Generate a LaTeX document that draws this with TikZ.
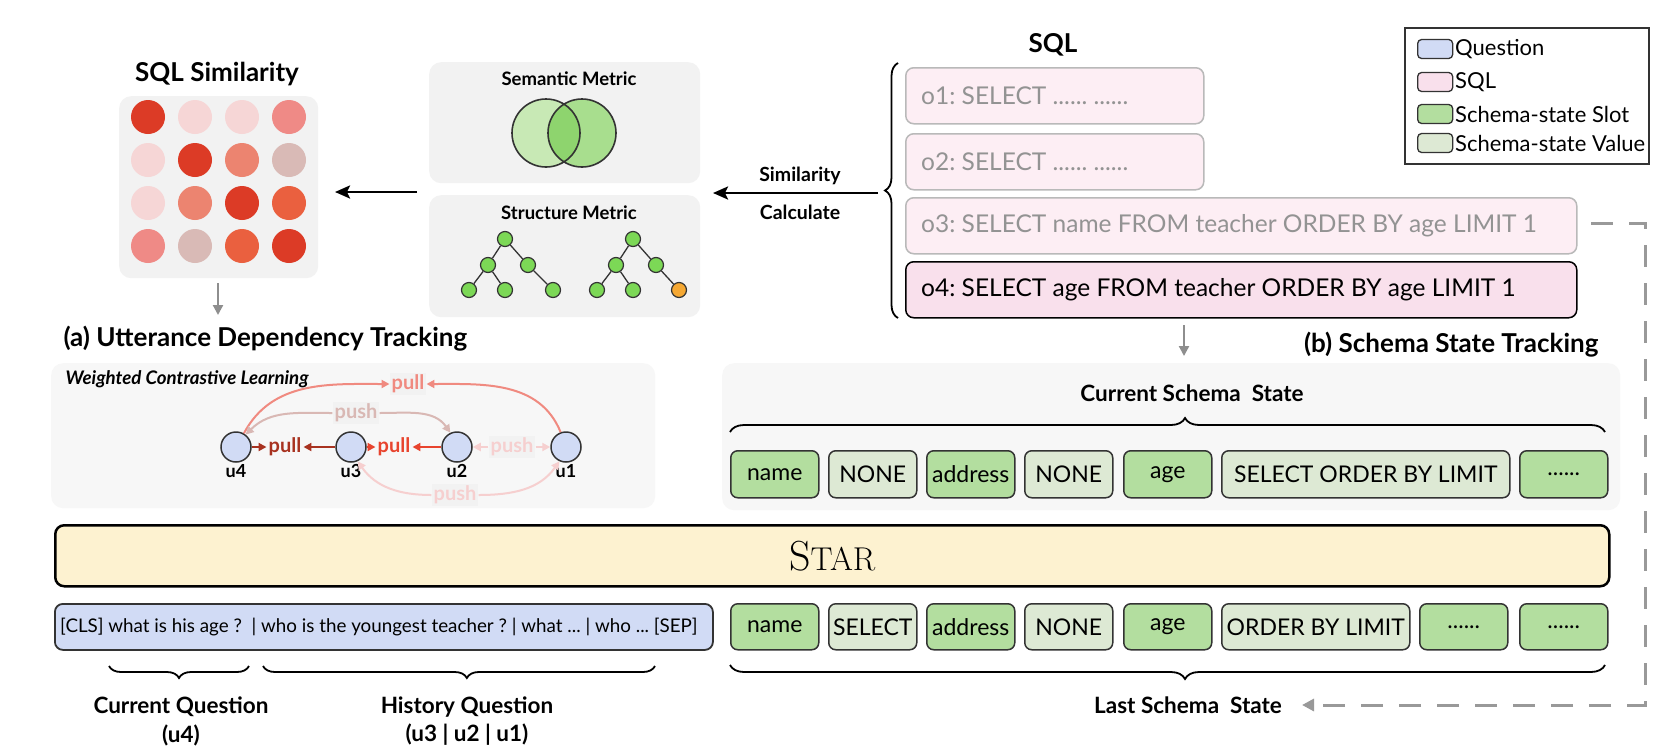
\documentclass[tikz,border=0pt]{standalone}
\usepackage{fontspec}
\setmainfont{Lato}
\usetikzlibrary{arrows.meta,decorations.pathreplacing,calc}
\newcommand\myfs[1]{\fontsize{#1}{#1}\selectfont}
\definecolor{qblue}{HTML}{D1DBF5}
\definecolor{sqlpale}{HTML}{FDEEF4}
\definecolor{sqlpink}{HTML}{F9E0EC}
\definecolor{slotg}{HTML}{B3DE9F}
\definecolor{valg}{HTML}{DDE9D4}
\definecolor{starY}{HTML}{FDF2D0}
\definecolor{panelA}{HTML}{F2F2F2}
\definecolor{panelB}{HTML}{F7F7F7}
\definecolor{mdark}{HTML}{DC3B26}
\definecolor{mpale}{HTML}{F6D6D6}
\definecolor{mpink}{HTML}{EF8A86}
\definecolor{msalmon}{HTML}{EC8470}
\definecolor{mgrey}{HTML}{D9BAB6}
\definecolor{morange}{HTML}{EA603F}
\definecolor{vennL}{HTML}{C8E9B5}
\definecolor{vennR}{HTML}{A8DE8E}
\definecolor{vennM}{HTML}{8ED46E}
\definecolor{treeG}{HTML}{7CD856}
\definecolor{treeO}{HTML}{F5A833}
\definecolor{cpullT}{HTML}{F08A80}
\definecolor{cpushU}{HTML}{D9B8B4}
\definecolor{cpullA}{HTML}{A83220}
\definecolor{cpullB}{HTML}{E8442E}
\definecolor{cpushM}{HTML}{F6CFCF}
\definecolor{darkline}{HTML}{333333}
\definecolor{arrgray}{HTML}{8E8E8E}
\tikzset{
  panel/.style={fill=#1, draw=none, rounded corners=12},
  sqlbox/.style={draw=gray!55, fill=sqlpale, rounded corners=8, line width=1.5,
    anchor=north west, minimum height=56, inner sep=0},
  sqlcur/.style={sqlbox, draw=black, fill=sqlpink},
  sqltext/.style={anchor=west, inner sep=0, text=gray!85, font=\myfs{24.5}},
  slot/.style={draw=darkline, fill=slotg, rounded corners=7, line width=1.5, anchor=north west,
    minimum height=47, inner sep=0, font=\myfs{23}},
  valbox/.style={slot, fill=valg},
  head/.style={font=\bfseries\myfs{26}},
  subhead/.style={font=\bfseries\myfs{18.5}},
  lbl/.style={font=\bfseries\myfs{22.5}},
  tnode/.style={circle, draw=darkline, line width=1.2, fill=treeG, minimum size=15, inner sep=0},
  unode/.style={circle, draw=darkline, line width=1.5, fill=qblue, minimum size=30, inner sep=0},
  ulbl/.style={font=\bfseries\myfs{18}},
  elbl/.style={font=\bfseries\myfs{20}, inner sep=2},
  blackarrow/.style={line width=2.5, -{Stealth[length=15,width=13,inset=3]}},
  grayarrow/.style={line width=2.2, arrgray, -{Triangle[length=10,width=10]}},
  carrow/.style={line width=2, -{Triangle[length=8,width=8]}},
  bracestyle/.style={line width=1.8, decorate, decoration={brace, amplitude=#1}},
  legsw/.style={draw=darkline, line width=1.3, rounded corners=4, minimum width=35, minimum height=19, inner sep=0, anchor=west},
  legtxt/.style={font=\myfs{22}, anchor=west, inner sep=0},
}
\begin{document}
\frenchspacing
\begin{tikzpicture}[x=1pt,y=-1pt]
\useasboundingbox (0,0) rectangle (1680,750);
\fill[white] (0,0) rectangle (1680,750);

% ---------- SQL similarity matrix ----------
\node[head] (simtitle) at (217,74) {SQL Similarity};
\node[panel=panelA, minimum width=199, minimum height=182, anchor=north west] (mat) at (119,96) {};
\foreach \c [count=\i] in {mdark,mpale,mpale,mpink}{\fill[\c] ({148+47*(\i-1)},117) circle (17pt);}
\foreach \c [count=\i] in {mpale,mdark,msalmon,mgrey}{\fill[\c] ({148+47*(\i-1)},160) circle (17pt);}
\foreach \c [count=\i] in {mpale,msalmon,mdark,morange}{\fill[\c] ({148+47*(\i-1)},203) circle (17pt);}
\foreach \c [count=\i] in {mpink,mgrey,morange,mdark}{\fill[\c] ({148+47*(\i-1)},246) circle (17pt);}
\coordinate (matdn1) at (218,283);
\coordinate (matdn2) at (218,315);
\draw[grayarrow] (matdn1) -- (matdn2);

% ---------- metric panels ----------
\node[panel=panelA, minimum width=271, minimum height=121, anchor=north west] (sem) at (429,62) {};
\node[subhead] (semt) at (569,79) {Semantic Metric};
\fill[vennL] (546,133) circle (34pt);
\fill[vennR] (582,133) circle (34pt);
\begin{scope}
  \clip (546,133) circle (34pt);
  \fill[vennM] (582,133) circle (34pt);
\end{scope}
\draw[line width=1.6, darkline] (546,133) circle (34pt);
\draw[line width=1.6, darkline] (582,133) circle (34pt);

\node[panel=panelA, minimum width=271, minimum height=122, anchor=north west] (str) at (429,195) {};
\node[subhead] (strt) at (569,213) {Structure Metric};
\node[tnode] (ar) at (505,239) {};
\node[tnode] (aa) at (488,265) {};
\node[tnode] (ab) at (528,265) {};
\node[tnode] (aaa) at (469,290) {};
\node[tnode] (aab) at (505,290) {};
\node[tnode] (abb) at (553,290) {};
\draw[line width=1.3, darkline] (ar) -- (aa) (ar) -- (ab) (aa) -- (aaa) (aa) -- (aab) (ab) -- (abb);
\node[tnode] (br) at (633,239) {};
\node[tnode] (ba) at (616,265) {};
\node[tnode] (bb) at (656,265) {};
\node[tnode] (baa) at (597,290) {};
\node[tnode] (bab) at (633,290) {};
\node[tnode, fill=treeO] (bbb) at (679,290) {};
\draw[line width=1.3, darkline] (br) -- (ba) (br) -- (bb) (ba) -- (baa) (ba) -- (bab) (bb) -- (bbb);

\coordinate (m2s1) at (417,192);
\coordinate (m2s2) at (335,192);
\draw[blackarrow] (m2s1) -- (m2s2);

% ---------- SQL list ----------
\node[head] (sqlt) at (1053,45) {SQL};
\node[sqlbox, minimum width=298] (o1) at (905,67) {};
\node[sqltext] (o1t) at ([xshift=16]o1.west) {o1: SELECT ...... ......};
\node[sqlbox, minimum width=298] (o2) at (905,133) {};
\node[sqltext] (o2t) at ([xshift=16]o2.west) {o2: SELECT ...... ......};
\node[sqlbox, minimum width=671] (o3) at (905,197) {};
\node[sqltext] (o3t) at ([xshift=16]o3.west) {o3: SELECT name FROM teacher ORDER BY age LIMIT 1};
\node[sqlcur, minimum width=671] (o4) at (905,261) {};
\node[sqltext, text=black] (o4t) at ([xshift=16]o4.west) {o4: SELECT age FROM teacher ORDER BY age LIMIT 1};
\coordinate (brB) at (898,318);
\coordinate (brT) at (898,63);
\draw[bracestyle=13] (brB) -- (brT);
\coordinate (simA) at (878,193);
\coordinate (simB) at (713,193);
\draw[blackarrow] (simA) -- (simB);
\node[font=\bfseries\myfs{19.5}] (simlbl1) at (800,176) {Similarity};
\node[font=\bfseries\myfs{19.5}] (simlbl2) at (800,212) {Calculate};

% ---------- legend ----------
\node[draw=darkline, line width=1.5, minimum width=244, minimum height=136, anchor=north west] (leg) at (1404,27) {};
\node[legsw, fill=qblue] (lq) at (1417,49) {};
\node[legtxt] at (1455,49) {Question};
\node[legsw, fill=sqlpink] (ls) at (1417,82) {};
\node[legtxt] at (1455,82) {SQL};
\node[legsw, fill=slotg] (lsl) at (1417,114) {};
\node[legtxt] at (1455,114) {Schema-state Slot};
\node[legsw, fill=valg] (lv) at (1417,143) {};
\node[legtxt] at (1455,143) {Schema-state Value};

% ---------- (a) utterance dependency ----------
\node[head, anchor=west] (atitle) at (60,339) {(a) Utterance Dependency Tracking};
\node[panel=panelB, minimum width=604, minimum height=145, anchor=north west] (cpanel) at (51,363) {};
\node[anchor=west, font=\bfseries\itshape\myfs{18.7}] (wcl) at (62,379) {Weighted Contrastive Learning};
\node[unode] (u4) at (236,447) {};
\node[unode] (u3) at (351,447) {};
\node[unode] (u2) at (457,447) {};
\node[unode] (u1) at (566,447) {};
\node[ulbl] at (236,471) {u4};
\node[ulbl] at (351,471) {u3};
\node[ulbl] at (457,471) {u2};
\node[ulbl] at (566,471) {u1};
\node[elbl, text=cpullT, fill=black!5] (pullT) at (408,384) {pull};
\node[elbl, text=cpushU, fill=black!5] (pushU) at (356,413) {push};
\node[elbl, text=cpushM, fill=black!5] (pushL) at (455,495) {push};
\node[elbl, text=cpullA] (pullA) at (285,447) {pull};
\node[elbl, text=cpullB] (pullB) at (394,447) {pull};
\node[elbl, text=cpushM, fill=black!5] (pushM) at (512,447) {push};
\draw[carrow, cpullT] (u4.60) to[out=62, in=180] (pullT.west);
\draw[carrow, cpullT] (u1.110) to[out=112, in=0] (pullT.east);
\draw[carrow, cpushU] (pushU.west) to[out=180, in=45] (u4.52);
\draw[carrow, cpushU] (pushU.east) to[out=0, in=125] (u2.115);
\draw[carrow, cpushM] (pushL.west) to[out=180, in=-55] (u3.-65);
\draw[carrow, cpushM] (pushL.east) to[out=0, in=-125] (u1.-115);
\draw[carrow, cpullA] (u4.east) -- (pullA.west);
\draw[carrow, cpullA] (u3.west) -- (pullA.east);
\draw[carrow, cpullB] (u3.east) -- (pullB.west);
\draw[carrow, cpullB] (u2.west) -- (pullB.east);
\draw[carrow, cpushM] (pushM.west) -- (u2.east);
\draw[carrow, cpushM] (pushM.east) -- (u1.west);

% ---------- (b) schema state ----------
\coordinate (o4dn1) at (1184,325);
\coordinate (o4dn2) at (1184,356);
\draw[grayarrow] (o4dn1) -- (o4dn2);
\node[head, anchor=east] (btitle) at (1602,345) {(b) Schema State Tracking};
\node[panel=panelB, minimum width=898, minimum height=147, anchor=north west] (spanel) at (722,363) {};
\node[lbl] (curst) at (1192,393) {Current Schema\ \ State};
\coordinate (cbL) at (730,432);
\coordinate (cbR) at (1605,432);
\draw[bracestyle=14, decoration={aspect=0.52}] (cbL) -- (cbR);
\node[slot, minimum width=88] (c1) at (730,450) {name};
\node[valbox, minimum width=88] (c2) at (828,450) {NONE};
\node[slot, minimum width=88] (c3) at (926,450) {address};
\node[valbox, minimum width=88] (c4) at (1024,450) {NONE};
\node[slot, minimum width=88] (c5) at (1123,450) {age};
\node[valbox, minimum width=288] (c6) at (1221,450) {SELECT ORDER BY LIMIT};
\node[slot, minimum width=88] (c7) at (1519,450) {......};

% ---------- STAR ----------
\node[draw=black, line width=2.5, fill=starY, rounded corners=9, minimum width=1554, minimum height=61, anchor=north west] (star) at (54,524) {};
\node[font=\fontfamily{lmr}\selectfont] at (star.center) {\myfs{42}S\myfs{33}TAR};

% ---------- input row ----------
\node[draw=darkline, line width=1.8, fill=qblue, rounded corners=8, minimum width=658, minimum height=46, anchor=north west] (qbox) at (54,603) {};
\node[anchor=west, font=\myfs{18.8}, inner sep=0] (qtext) at (60,627) {[CLS] what is his age ?\ \ | who is the youngest teacher ? | what ... | who ... [SEP]};
\node[slot, minimum width=88, minimum height=46] (l1) at (730,603) {name};
\node[valbox, minimum width=88, minimum height=46] (l2) at (828,603) {SELECT};
\node[slot, minimum width=88, minimum height=46] (l3) at (926,603) {address};
\node[valbox, minimum width=88, minimum height=46] (l4) at (1024,603) {NONE};
\node[slot, minimum width=88, minimum height=46] (l5) at (1123,603) {age};
\node[valbox, minimum width=188, minimum height=46] (l6) at (1221,603) {ORDER BY LIMIT};
\node[slot, minimum width=88, minimum height=46] (l7) at (1419,603) {......};
\node[slot, minimum width=88, minimum height=46] (l8) at (1519,603) {......};

\coordinate (lbR) at (1605,665);
\coordinate (lbL) at (730,665);
\draw[bracestyle=14, decoration={aspect=0.48}] (lbR) -- (lbL);
\node[lbl] (last) at (1188,705) {Last Schema\ \ State};

\coordinate (qbR) at (249,666);
\coordinate (qbL) at (109,666);
\draw[bracestyle=12] (qbR) -- (qbL);
\coordinate (hbR) at (655,666);
\coordinate (hbL) at (263,666);
\draw[bracestyle=12, decoration={aspect=0.48}] (hbR) -- (hbL);
\node[lbl] (cq) at (181,707) {Current Question};
\node[lbl] (cq2) at (181,735) {(u4)};
\node[lbl] (hq) at (467,707) {History Question};
\node[lbl] (hq2) at (467,735) {(u3 | u2 | u1)};

% ---------- dashed feedback ----------
\coordinate (d0) at (1591,223);
\coordinate (d1) at (1645,223);
\coordinate (d2) at (1645,705);
\coordinate (d3) at (1302,705);
\draw[line width=3, color=black!40, dash pattern=on 22 off 16, -{Triangle[length=12,width=12]}] (d0) -- (d1) -- (d2) -- (d3);
\end{tikzpicture}
\end{document}
